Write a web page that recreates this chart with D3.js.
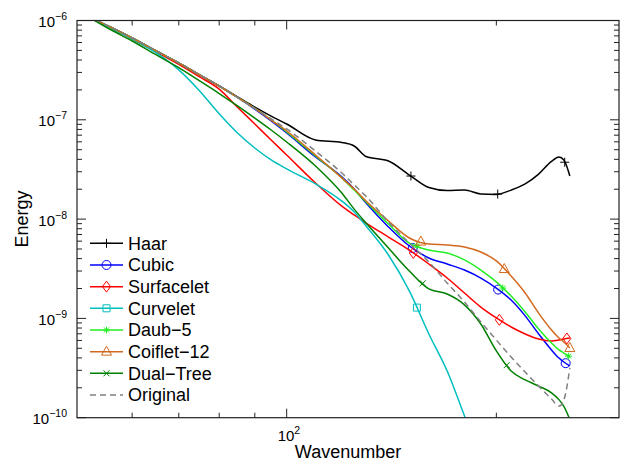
<!DOCTYPE html>
<html>
<head>
<meta charset="utf-8">
<script src="https://cdn.jsdelivr.net/npm/d3@7"></script>
<style>
  body { margin: 0; background: #fff; }
  text { font-family: "Liberation Sans", Arial, Helvetica, sans-serif; fill: #000; }
</style>
</head>
<body>
<svg id="chart" width="623" height="461"></svg>
<script>
// wavenumber grid shared by all spectra
const wavenumber = [53, 56, 60, 65, 70, 75, 80, 85, 90, 95, 100, 110, 120, 125, 130, 140, 150, 160, 170, 180, 190, 200, 210, 220, 230, 240, 246, 250, 255];

const haar = [1.02e-6, 8.5e-7, 6.67e-7, 4.93e-7, 3.73e-7, 2.83e-7, 2.19e-7, 1.70e-7, 1.34e-7, 1.09e-7, 9.07e-8, 6.26e-8, 5.91e-8, 5.45e-8, 4.27e-8, 3.85e-8, 2.78e-8, 2.08e-8, 1.94e-8, 1.96e-8, 1.79e-8, 1.77e-8, 1.96e-8, 2.26e-8, 2.84e-8, 3.81e-8, 4.22e-8, 3.94e-8, 2.72e-8];
const cubic = [1.02e-6, 8.5e-7, 6.67e-7, 4.93e-7, 3.73e-7, 2.83e-7, 2.19e-7, 1.68e-7, 1.28e-7, 9.73e-8, 7.36e-8, 4.22e-8, 2.66e-8, 2.01e-8, 1.45e-8, 8.33e-9, 5.36e-9, 4.06e-9, 3.53e-9, 3.07e-9, 2.55e-9, 2.02e-9, 1.53e-9, 1.06e-9, 6.97e-10, 4.81e-10, 3.99e-10, 3.64e-10, 3.32e-10];
const surfacelet = [1.01e-6, 8.31e-7, 6.51e-7, 4.82e-7, 3.61e-7, 2.70e-7, 2.04e-7, 1.34e-7, 9.07e-8, 6.26e-8, 4.42e-8, 2.31e-8, 1.35e-8, 1.10e-8, 9.13e-9, 6.60e-9, 4.88e-9, 3.53e-9, 2.55e-9, 1.80e-9, 1.30e-9, 1.01e-9, 8.19e-10, 6.97e-10, 6.20e-10, 5.92e-10, 6.06e-10, 6.20e-10, 6.35e-10];
const curvelet = [1.01e-6, 8.31e-7, 6.51e-7, 4.71e-7, 3.18e-7, 1.95e-7, 1.15e-7, 7.36e-8, 5.20e-8, 3.94e-8, 3.20e-8, 2.26e-8, 1.52e-8, 1.18e-8, 8.52e-9, 4.35e-9, 1.89e-9, 6.97e-10, 2.95e-10, 1.04e-10, 3.75e-11, null, null, null, null, null, null, null, null];
const daub5 = [1.02e-6, 8.5e-7, 6.67e-7, 4.93e-7, 3.73e-7, 2.83e-7, 2.19e-7, 1.68e-7, 1.30e-7, 9.95e-8, 7.54e-8, 4.32e-8, 2.60e-8, 1.96e-8, 1.49e-8, 8.93e-9, 5.74e-9, 4.88e-9, 4.56e-9, 3.88e-9, 3.07e-9, 2.33e-9, 1.68e-9, 1.16e-9, 7.82e-10, 5.66e-10, 4.81e-10, 4.48e-10, 4.09e-10];
const coiflet12 = [1.02e-6, 8.5e-7, 6.67e-7, 4.93e-7, 3.73e-7, 2.83e-7, 2.19e-7, 1.68e-7, 1.30e-7, 9.95e-8, 7.71e-8, 4.42e-8, 2.60e-8, 2.01e-8, 1.52e-8, 9.57e-9, 6.45e-9, 5.61e-9, 5.49e-9, 5.24e-9, 4.66e-9, 3.79e-9, 2.67e-9, 1.80e-9, 1.13e-9, 7.64e-10, 6.35e-10, 5.79e-10, 5.03e-10];
const dualTree = [1.00e-6, 8.02e-7, 6.22e-7, 4.50e-7, 3.35e-7, 2.46e-7, 1.84e-7, 1.38e-7, 1.04e-7, 7.89e-8, 5.98e-8, 3.43e-8, 1.83e-8, 1.26e-8, 9.13e-9, 5.12e-9, 3.00e-9, 1.98e-9, 1.76e-9, 1.37e-9, 8.78e-10, 4.70e-10, 2.95e-10, 2.40e-10, 2.08e-10, 1.78e-10, 1.52e-10, 1.30e-10, 9.6e-11];
const original = [1.02e-6, 8.5e-7, 6.67e-7, 4.93e-7, 3.73e-7, 2.83e-7, 2.19e-7, 1.68e-7, 1.30e-7, 1.02e-7, 8.08e-8, 4.85e-8, 2.91e-8, 2.21e-8, 1.70e-8, 9.35e-9, 5.74e-9, 3.70e-9, 2.27e-9, 1.46e-9, 9.2e-10, 6.06e-10, 4.09e-10, 2.88e-10, 2.08e-10, 1.54e-10, 1.31e-10, 1.51e-10, 3.17e-10];

// wavenumbers where the markers sit
const haarMarks = [150.8, 200.9, 250.7];
const cubicMarks = [151.7, 201.2, 251.5];
const surfaceletMarks = [152, 202, 252.5];
const curveletMarks = [153.8];
const daub5Marks = [153.8, 204.3, 254];
const coifletMarks = [155.8, 205.3, 255];
const dualTreeMarks = [156.8, 207];

const seriesNames = ["Haar", "Cubic", "Surfacelet", "Curvelet", "Daub\u22125", "Coiflet\u221212", "Dual\u2212Tree", "Original"];
const seriesValues = [haar, cubic, surfacelet, curvelet, daub5, coiflet12, dualTree, original];
const seriesMarks = [haarMarks, cubicMarks, surfaceletMarks, curveletMarks, daub5Marks, coifletMarks, dualTreeMarks, []];
const seriesColors = ["#000000", "#0000ff", "#ff0000", "#00bfbf", "#22ee22", "#d2691e", "#008000", "#808080"];
const seriesMarkers = ["plus", "circle", "diamond", "square", "star", "triangle", "cross", "none"];

const yTicks = [1e-6, 1e-7, 1e-8, 1e-9, 1e-10];
const xMinorTicks = [60, 70, 80, 90, 200];

const svg = d3.select("#chart");
const plotLeft = 77, plotRight = 619, plotTop = 20.5, plotBottom = 417.7;

const x = d3.scaleLog().domain([50, 300]).range([plotLeft, plotRight]);
const y = d3.scaleLog().domain([1e-10, 1e-6]).range([plotBottom, plotTop]);

svg.append("defs").append("clipPath").attr("id", "plotclip")
  .append("rect").attr("x", plotLeft).attr("y", plotTop)
  .attr("width", plotRight - plotLeft).attr("height", plotBottom - plotTop);

// marker shapes
function markerPath(type) {
  switch (type) {
    case "plus": return "M-4.5,0H4.5M0,-4.5V4.5";
    case "diamond": return "M0,-5.5L4,0L0,5.5L-4,0Z";
    case "square": return "M-3.5,-3.5H3.5V3.5H-3.5Z";
    case "star": return "M-3.5,0H3.5M0,-3.5V3.5M-2.5,-2.5L2.5,2.5M-2.5,2.5L2.5,-2.5";
    case "triangle": return "M0,-5.5L5,3.5H-5Z";
    case "cross": return "M-3,-3L3,3M-3,3L3,-3";
    default: return null;
  }
}

function drawMarker(g, type, color, cx, cy) {
  if (type === "circle") {
    g.append("circle").attr("cx", cx).attr("cy", cy).attr("r", 4.5)
      .attr("fill", "none").attr("stroke", color).attr("stroke-width", 1);
  } else if (type !== "none") {
    g.append("path").attr("d", markerPath(type))
      .attr("transform", `translate(${cx},${cy})`)
      .attr("fill", "none").attr("stroke", color).attr("stroke-width", 1);
  }
}

// log-log interpolation along one spectrum
function valueAt(k, vals) {
  for (let i = 0; i < wavenumber.length - 1; i++) {
    const k0 = wavenumber[i], k1 = wavenumber[i + 1];
    if (k >= k0 && k <= k1 && vals[i] != null && vals[i + 1] != null) {
      const t = Math.log(k / k0) / Math.log(k1 / k0);
      return Math.exp(Math.log(vals[i]) + t * Math.log(vals[i + 1] / vals[i]));
    }
  }
  return vals[vals.length - 1];
}

// ticks, inside on all four sides
const axisColor = "#222";
const tickG = svg.append("g").attr("stroke", axisColor).attr("stroke-width", 1);
yTicks.forEach(v => {
  const yy = y(v);
  tickG.append("line").attr("x1", plotLeft).attr("x2", plotLeft + 9).attr("y1", yy).attr("y2", yy);
  tickG.append("line").attr("x1", plotRight).attr("x2", plotRight - 9).attr("y1", yy).attr("y2", yy);
  for (let m = 2; m <= 9; m++) {
    const ym = y(v * m);
    if (ym < plotTop) continue;
    tickG.append("line").attr("x1", plotLeft).attr("x2", plotLeft + 5).attr("y1", ym).attr("y2", ym);
    tickG.append("line").attr("x1", plotRight).attr("x2", plotRight - 5).attr("y1", ym).attr("y2", ym);
  }
});
xMinorTicks.forEach(k => {
  const xx = x(k);
  tickG.append("line").attr("x1", xx).attr("x2", xx).attr("y1", plotBottom).attr("y2", plotBottom - 5);
  tickG.append("line").attr("x1", xx).attr("x2", xx).attr("y1", plotTop).attr("y2", plotTop + 5);
});
tickG.append("line").attr("x1", x(100)).attr("x2", x(100)).attr("y1", plotBottom).attr("y2", plotBottom - 9);
tickG.append("line").attr("x1", x(100)).attr("x2", x(100)).attr("y1", plotTop).attr("y2", plotTop + 9);

// curves
const line = d3.line()
  .defined(d => d[1] != null)
  .x(d => x(d[0]))
  .y(d => y(d[1]))
  .curve(d3.curveMonotoneX);

const plot = svg.append("g").attr("clip-path", "url(#plotclip)");
seriesValues.forEach((vals, i) => {
  const pts = wavenumber.map((k, j) => [k, vals[j]]);
  plot.append("path")
    .attr("d", line(pts))
    .attr("fill", "none")
    .attr("stroke", seriesColors[i])
    .attr("stroke-width", 1.5)
    .attr("stroke-dasharray", seriesNames[i] === "Original" ? "6,4" : null);
  seriesMarks[i].forEach(k => {
    drawMarker(plot, seriesMarkers[i], seriesColors[i], x(k), y(valueAt(k, vals)));
  });
});

// frame
svg.append("rect").attr("x", plotLeft).attr("y", plotTop)
  .attr("width", plotRight - plotLeft).attr("height", plotBottom - plotTop)
  .attr("fill", "none").attr("stroke", axisColor).attr("stroke-width", 1.2);

// tick labels
yTicks.forEach(v => {
  const e = Math.round(Math.log10(v));
  const t = svg.append("text").attr("x", 67).attr("y", y(v) + 6.5)
    .attr("text-anchor", "end").attr("font-size", 15);
  t.append("tspan").text("10");
  t.append("tspan").attr("dy", -7).attr("font-size", 10.5).text("\u2212" + (-e));
});
const xl = svg.append("text").attr("x", x(100) - 9).attr("y", 441)
  .attr("font-size", 15);
xl.append("tspan").text("10");
xl.append("tspan").attr("dy", -7).attr("font-size", 10.5).text("2");

// axis titles
svg.append("text").attr("x", (plotLeft + plotRight) / 2).attr("y", 458)
  .attr("text-anchor", "middle").attr("font-size", 18).text("Wavenumber");
svg.append("text").attr("transform", `translate(28,${(plotTop + plotBottom) / 2}) rotate(-90)`)
  .attr("text-anchor", "middle").attr("font-size", 18).text("Energy");

// legend
const legend = svg.append("g");
seriesNames.forEach((name, i) => {
  const ly = 243.3 + i * 21.67;
  legend.append("line").attr("x1", 90).attr("x2", 123).attr("y1", ly).attr("y2", ly)
    .attr("stroke", seriesColors[i]).attr("stroke-width", 1.5)
    .attr("stroke-dasharray", name === "Original" ? "6,4" : null);
  drawMarker(legend, seriesMarkers[i], seriesColors[i], 106.5, ly);
  legend.append("text").attr("x", 128).attr("y", ly + 6.5)
    .attr("font-size", 18).text(name);
});
</script>
</body>
</html>
